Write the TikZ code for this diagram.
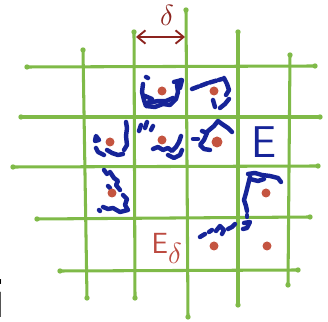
\documentclass[tikz,border=0pt]{standalone}
\usepackage{amsmath,amssymb}
\usepackage{tikz}
\usetikzlibrary{arrows.meta,calc,positioning}
\definecolor{gridgreen}{RGB}{127,186,72}
\definecolor{dotred}{RGB}{196,84,64}
\definecolor{inkblue}{RGB}{22,36,152}
\definecolor{darkred}{RGB}{140,35,30}
\definecolor{labelred}{RGB}{188,74,64}

\begin{document}
\begin{tikzpicture}[x=0.3mm,y=-0.3mm,
    gridline/.style={draw=gridgreen,line width=2.6pt,line cap=round},
    scribble/.style={draw=inkblue,line width=3.8pt,line cap=round,line join=round},
    center/.style={fill=dotred}]
  \useasboundingbox (0,0) rectangle (328,322);
  % grid of side delta
  \foreach \xa/\ya/\xb/\yb in {83/50/87/298, 134/32/135/298, 186/10/188/317,
      238/32/238/305, 290/55/288/285, 27/67/315/66, 21/117/320/117,
      13/167/318/166, 37/219/310/217, 60/271/298/270} {
    \draw[gridline] (\xa,\ya) -- (\xb,\yb);
    \fill[gridgreen] (\xa,\ya) circle (0.8mm) (\xb,\yb) circle (0.8mm);
  }
  % width of a cell
  \coordinate (dl) at (136,37);
  \coordinate (dr) at (185,37);
  \draw[darkred,line width=1.6pt,{Straight Barb[length=2.4mm,width=4mm]}-{Straight Barb[length=2.4mm,width=4mm]}] (dl) -- (dr);
  \node[darkred,font=\fontsize{38}{38}\selectfont] (delta) at (167,15) {$\delta$};
  % boundary of E
  \draw[scribble] (146,77) -- (148,78);
  \draw[scribble] (143,84) -- (142,92) -- (144,100) -- (146,106) -- (155,107) -- (163,104)
    -- (170,105) -- (176,99) -- (178,92) -- (177,85) -- (181,80);
  \draw[scribble] (145,96) -- (152,99) -- (148,103) -- (158,101) -- (166,101) -- (173,98);
  \draw[scribble] (174,82) -- (182,80) -- (180,88);
  \draw[scribble,dash pattern=on 6pt off 2pt] (192,89) -- (200,86) -- (208,83) -- (215,81) -- (222,79);
  \draw[scribble] (224,78) -- (227,84) -- (229,90) -- (226,95);
  \draw[scribble] (229,99) -- (225,104) -- (220,108);
  \draw[scribble] (213,100) -- (215,107);
  \draw[scribble] (96,136) -- (99,140) -- (95,141) -- cycle;
  \draw[scribble] (96,148) -- (98,152) -- (104,155);
  \draw[scribble] (107,150) -- (112,153) -- (118,155) -- (123,154);
  \draw[scribble] (126,122) -- (127,128) -- (126,136) -- (127,145) -- (124,150);
  \draw[scribble] (139,131) -- (141,125);
  \draw[scribble] (145,128) -- (147,122);
  \draw[scribble] (151,130) -- (153,126);
  \draw[scribble] (153,149) -- (158,147) -- (163,150) -- (168,148) -- (172,151) -- (176,147)
    -- (179,142) -- (181,136);
  \draw[scribble] (168,155) -- (174,158) -- (180,155) -- (182,150);
  \draw[scribble] (193,139) -- (198,139);
  \draw[scribble] (202,131) -- (207,133) -- (204,140) -- (200,145) -- (204,149) -- (210,150);
  \draw[scribble] (208,131) -- (214,126) -- (218,121) -- (222,124) -- (228,128) -- (232,132);
  \draw[scribble] (104,170) -- (107,174);
  \draw[scribble] (110,172) -- (114,178) -- (118,181) -- (116,185) -- (120,190);
  \draw[scribble] (108,186) -- (110,188);
  \draw[scribble] (123,195) -- (127,199) -- (125,205) -- (128,210) -- (120,212) -- (113,208)
    -- (108,209) -- (103,207);
  \draw[scribble] (99,210) -- (100,211);
  \draw[scribble] (248,174) -- (255,173) -- (262,175) -- (270,176) -- (278,178) -- (281,182);
  \draw[scribble] (250,179) -- (258,181) -- (264,179);
  \draw[scribble] (250,177) -- (248,185) -- (246,193) -- (244,200) -- (246,206) -- (247,211);
  \draw[scribble] (247,215) -- (247,217);
  \draw[scribble] (200,237) -- (205,234);
  \draw[scribble] (209,232) -- (212,230);
  \draw[scribble] (216,231) -- (220,226) -- (224,230) -- (222,234);
  \draw[scribble] (228,229) -- (232,227) -- (235,224);
  \draw[scribble] (244,223) -- (250,222) -- (247,228) -- (243,229);
  % centres of the cells
  \foreach \cx/\cy in {162/91, 214/91, 110/142, 162/140, 112/193, 266/193, 214/246, 267/246}
    \fill[center] (\cx,\cy) circle (1.35mm);
  \fill[center] (217,142) circle (1.65mm);
  \node[inkblue,font=\fontsize{38}{38}\selectfont\sffamily] (setE) at (264,142) {E};
  \node[labelred,font=\fontsize{40}{40}\selectfont] (setEd) at (167,248) {$\mathsf{E}_\delta$};
  \node[inner sep=0pt,anchor=base east,font=\fontsize{50}{50}\selectfont\sffamily] (letter) at (6,318) {i};
\end{tikzpicture}
\end{document}
